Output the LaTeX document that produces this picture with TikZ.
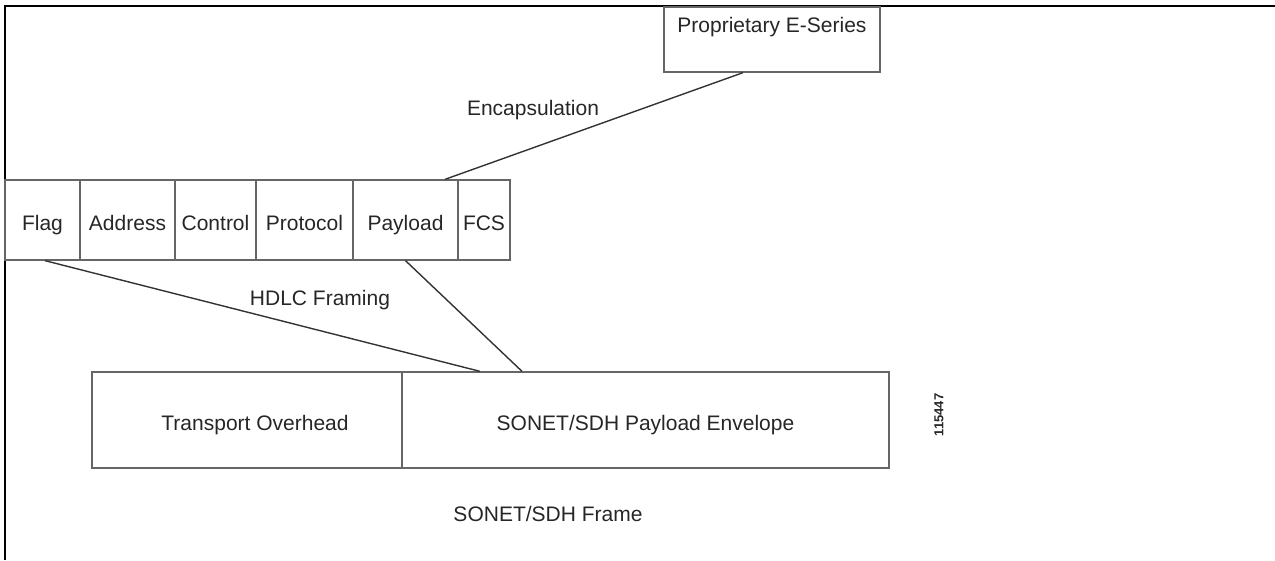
\documentclass[tikz,border=0pt]{standalone}
\usepackage{fontspec}
\setmainfont{Liberation Sans}
\usetikzlibrary{calc}
\begin{document}
\begin{tikzpicture}[x=1pt,y=-1pt,
  every node/.style={font=\fontsize{21}{24}\selectfont, text=black!85},
  cell/.style={draw=black!60, line width=1.3pt, inner sep=0pt, minimum height=80pt, text height=24pt, text depth=4pt},
  bigcell/.style={draw=black!60, line width=1.3pt, inner sep=0pt, minimum height=96pt, text height=24pt, text depth=4pt},
  conn/.style={draw=black!80, line width=1.4pt},
  lbl/.style={inner sep=0pt}]
\useasboundingbox (0,0) rectangle (1275,560);
% frame
\draw[line width=2pt] (5,560) -- (5,6) -- (1275,6);
% proprietary box
\node[draw=black!60, line width=1.3pt, minimum width=216pt, minimum height=65pt, inner sep=0pt] (prop) at (772,39.5) {};
\node[lbl] (proptxt) at (772,27) {Proprietary E-Series};
% HDLC cells
\node[cell, minimum width=75pt] (flag) at (42.5,220) {Flag};
\node[cell, minimum width=95pt] (addr) at (127.5,220) {Address};
\node[cell, minimum width=81pt] (ctrl) at (215.5,220) {Control};
\node[cell, minimum width=97pt] (prot) at (304.5,220) {Protocol};
\node[cell, minimum width=105pt] (pay) at (405.5,220) {Payload};
\node[cell, minimum width=52pt] (fcs) at (484,220) {FCS};
% SONET frame
\node[bigcell, minimum width=310pt] (toh) at (247,420) {\hspace*{16pt}Transport Overhead};
\node[bigcell, minimum width=487pt] (spe) at (645.5,420) {SONET/SDH Payload Envelope};
% labels
\node[lbl] (enc) at (533,110) {Encapsulation};
\node[lbl] (hdlc) at (320,300) {HDLC Framing};
\node[lbl] (frame) at (548,514) {SONET/SDH Frame};
\node[lbl, rotate=90, font=\fontsize{13}{14}\selectfont\bfseries] (fig) at (939,415) {115447};
% connectors
\draw[conn] ([xshift=-29pt]prop.south) -- ([xshift=39.5pt]pay.north);
\draw[conn] ([xshift=2.5pt]flag.south) -- ([xshift=-165.5pt]spe.north);
\draw[conn] (pay.south) -- ([xshift=-123.5pt]spe.north);
\end{tikzpicture}
\end{document}
